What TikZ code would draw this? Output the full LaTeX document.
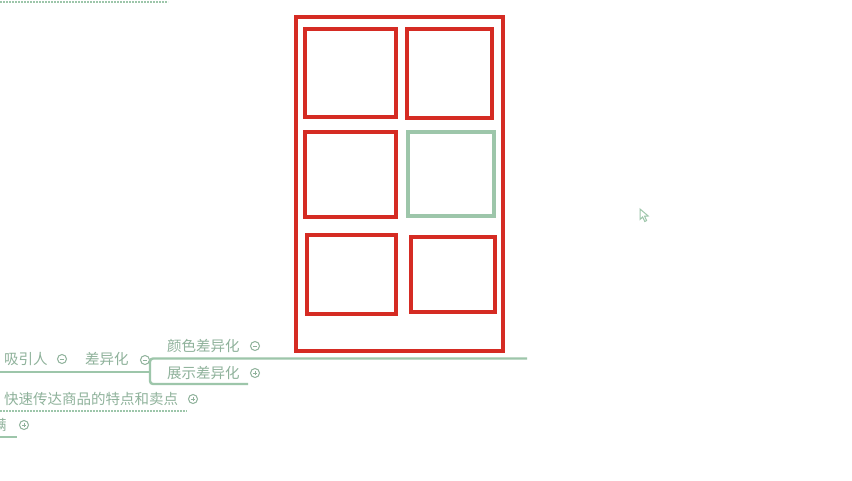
\documentclass[tikz,border=0pt]{standalone}
\usepackage{fontspec}
\newfontfamily\cjk{Noto Sans CJK SC}
\definecolor{rbox}{HTML}{D52B23}
\definecolor{gline}{HTML}{9DC6AA}
\definecolor{gtext}{HTML}{8FB29B}
\tikzset{
  box/.style={draw=rbox,line width=3.2pt},
  gbox/.style={draw=gline,line width=3.6pt},
  branch/.style={draw=gline,line width=2.4pt},
  dotbranch/.style={draw=gline,line width=2pt,densely dotted},
  lbl/.style={font=\cjk\fontsize{14.5}{16}\selectfont,text=gtext,anchor=west,inner sep=0pt},
  tog/.style={circle,draw=gtext,line width=1pt,minimum size=9pt,inner sep=0pt},
}
\newcommand{\minussign}[1]{\draw[gtext,line width=1pt] ([xshift=-2.2pt]#1.center) -- ([xshift=2.2pt]#1.center);}
\newcommand{\plussign}[1]{\draw[gtext,line width=1pt] ([xshift=-2.2pt]#1.center) -- ([xshift=2.2pt]#1.center) ([yshift=-2.2pt]#1.center) -- ([yshift=2.2pt]#1.center);}
\begin{document}
\begin{tikzpicture}[x=1pt,y=-1pt]
\useasboundingbox (0,0) rectangle (852,480);
\fill[white] (0,0) rectangle (852,480);
% phone frame
\draw[box] (296,17) rectangle (503,351);
\draw[box] (305,29) rectangle (396,117);
\draw[box] (407,29) rectangle (492,118);
\draw[box] (305,132) rectangle (396,217);
\draw[gbox] (408,132) rectangle (494,216);
\draw[box] (307,235) rectangle (396,314);
\draw[box] (411,237) rectangle (495,312);
% top dotted line
\coordinate (t0) at (0,1.5);
\coordinate (t1) at (168,1.5);
\draw[dotbranch] (t0) -- (t1);
% labels
\node[lbl] (xyr) at (4,359) {吸引人};
\node[tog] (c1) at (62,359) {};
\minussign{c1}
\node[lbl] (cyh) at (85,359) {差异化};
\node[tog] (c2) at (145,360) {};
\minussign{c2}
\node[lbl] (ys) at (167,346) {颜色差异化};
\node[tog] (c3) at (255,346) {};
\minussign{c3}
\node[lbl] (zs) at (167,373) {展示差异化};
\node[tog] (c4) at (255,373) {};
\plussign{c4}
\node[lbl] (ks) at (4,399) {快速传达商品的特点和卖点};
\node[tog] (c5) at (193,399) {};
\plussign{c5}
\begin{scope}
\clip (0,410) rectangle (20,440);
\node[lbl] (mn) at (-8,425) {满};
\end{scope}
\node[tog] (c6) at (24,425) {};
\plussign{c6}
% branch lines
\coordinate (a0) at (0,372);
\coordinate (a1) at (150,372);
\coordinate (b1) at (527,358.5);
\coordinate (b2) at (248,384);
\draw[branch] (a0) -- (a1);
\draw[branch,rounded corners=3pt] (b1) -- (150,358.5) -- (150,384) -- (b2);
\coordinate (k0) at (0,411);
\coordinate (k1) at (187,411);
\draw[dotbranch] (k0) -- (k1);
\coordinate (m0) at (0,437);
\coordinate (m1) at (17,437);
\draw[branch] (m0) -- (m1);
% cursor
\draw[gline,line width=1pt,line join=miter,fill=white] (640,209) -- (640,219.5) -- (642.6,217) -- (644.8,221.5) -- (646.6,220.6) -- (644.6,216.2) -- (648.2,216) -- cycle;
\end{tikzpicture}
\end{document}
